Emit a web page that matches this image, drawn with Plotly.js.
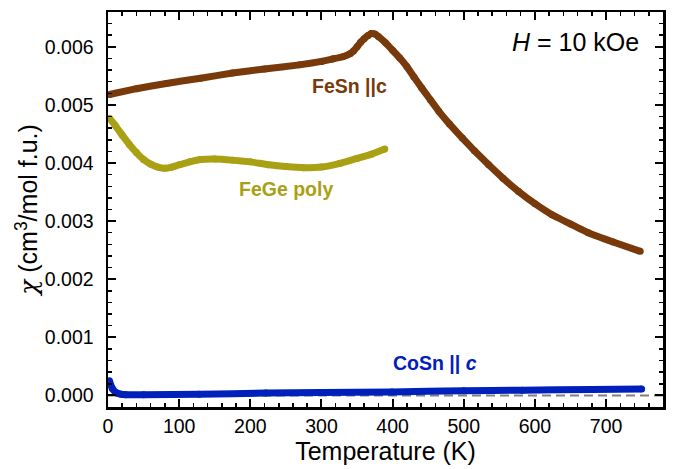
<!DOCTYPE html>
<html>
<head>
<meta charset="utf-8">
<script src="https://cdn.plot.ly/plotly-3.0.1.min.js"></script>
<style>html,body{margin:0;padding:0;background:#fff;}#chart{width:678px;height:469px;}</style>
</head>
<body>
<div id="chart"></div>
<script>
// FeSn || c
const fesnT = [2, 40, 82, 130, 175, 220, 269, 300, 315, 330, 340, 345, 350, 355, 360, 365, 370, 375, 380, 390, 400, 410, 420, 430, 441, 453, 465, 480, 498, 515, 535, 555, 577, 600, 624, 650, 675, 710, 748];
const fesnChi = [0.00518, 0.00528, 0.00537, 0.00546, 0.00555, 0.00562, 0.00569, 0.00575, 0.00579, 0.00583, 0.00588, 0.00593, 0.00600, 0.00608, 0.00614, 0.00619, 0.00623, 0.00622, 0.00618, 0.00607, 0.00594, 0.00581, 0.00566, 0.00548, 0.00529, 0.00509, 0.00489, 0.00467, 0.00443, 0.00421, 0.00397, 0.00374, 0.00351, 0.00330, 0.00311, 0.00295, 0.00280, 0.00264, 0.00248];
// FeGe poly
const fegeT = [2, 10, 20, 30, 40, 50, 60, 70, 80, 90, 100, 115, 130, 150, 175, 200, 225, 250, 275, 300, 325, 350, 370, 389];
const fegeChi = [0.00477, 0.00465, 0.00448, 0.00432, 0.00418, 0.00406, 0.00398, 0.00393, 0.00391, 0.00393, 0.00397, 0.00402, 0.00406, 0.00407, 0.00405, 0.00402, 0.00397, 0.00394, 0.00392, 0.00393, 0.00399, 0.00408, 0.00415, 0.00424];
// CoSn || c
const cosnT = [2, 6, 11, 18, 25, 50, 128, 222, 300, 399, 500, 582, 680, 750];
const cosnChi = [0.00025, 0.00012, 0.00005, 0.00002, 0.00001, 0.00001, 0.00002, 0.00004, 0.00005, 0.00006, 0.00008, 0.00009, 0.00010, 0.00011];
// zero reference
const zeroT = [0, 780];
const zeroChi = [0, 0];

const cFeSn = '#783a0a', cFeGe = '#aaa014', cCoSn = '#0020bc';
const font = 'Liberation Sans, Arial, sans-serif';

function curve(x, y, c) {
  return {x: x, y: y, type: 'scatter', mode: 'lines+markers',
    line: {color: c, width: 7, shape: 'spline', smoothing: 0.3},
    marker: {color: c, size: 7}, hoverinfo: 'skip', showlegend: false};
}

const data = [
  {x: zeroT, y: zeroChi, type: 'scatter', mode: 'lines',
   line: {color: '#808080', width: 2, dash: '9px,5px'}, showlegend: false, hoverinfo: 'skip'},
  curve(cosnT, cosnChi, cCoSn),
  curve(fegeT, fegeChi, cFeGe),
  curve(fesnT, fesnChi, cFeSn)
];

const axCommon = {
  showgrid: false, zeroline: false, showline: true, linecolor: '#000', linewidth: 2.5,
  mirror: 'ticks', ticks: 'inside', ticklen: 8, tickwidth: 2, tickcolor: '#000',
  tickfont: {family: font, size: 19.5, color: '#000'}
};

const layout = {
  width: 678, height: 469,
  margin: {l: 108, r: 15, t: 12, b: 62},
  paper_bgcolor: '#fff', plot_bgcolor: '#fff',
  xaxis: Object.assign({}, axCommon, {
    range: [0, 780], dtick: 100, tick0: 0,
    minor: {dtick: 20, ticks: 'inside', ticklen: 4, tickwidth: 1.5, tickcolor: '#000'},
    ticklabelstandoff: 0,
    title: {text: 'Temperature (K)', font: {family: font, size: 25, color: '#000'}, standoff: 4}
  }),
  yaxis: Object.assign({}, axCommon, {
    range: [-0.0002, 0.0066], dtick: 0.001, tick0: 0, tickformat: '.3f',
    minor: {dtick: 0.0002, ticks: 'inside', ticklen: 4, tickwidth: 1.5, tickcolor: '#000'},
    ticklabelstandoff: 8,
    title: {text: '<span style="font-family:DejaVu Serif;font-style:italic">χ</span> (cm<sup>3</sup>/mol f.u.)',
            font: {family: font, size: 25, color: '#000'}, standoff: 0}
  }),
  annotations: [
    {xref: 'x', yref: 'y', x: 339, y: 0.00532, text: '<b>FeSn ||c</b>', showarrow: false,
     font: {family: font, size: 19.5, color: cFeSn}},
    {xref: 'x', yref: 'y', x: 250, y: 0.00355, text: '<b>FeGe poly</b>', showarrow: false,
     font: {family: font, size: 19.5, color: cFeGe}},
    {xref: 'x', yref: 'y', x: 460, y: 0.00055, text: '<b>CoSn || <i>c</i></b>', showarrow: false,
     font: {family: font, size: 19.5, color: cCoSn}},
    {xref: 'paper', yref: 'paper', x: 0.96, y: 0.925, xanchor: 'right', yanchor: 'middle',
     text: '<i>H</i> = 10 kOe', showarrow: false, font: {family: font, size: 25, color: '#000'}}
  ]
};

Plotly.newPlot('chart', data, layout, {displayModeBar: false, staticPlot: true});
</script>
</body>
</html>
